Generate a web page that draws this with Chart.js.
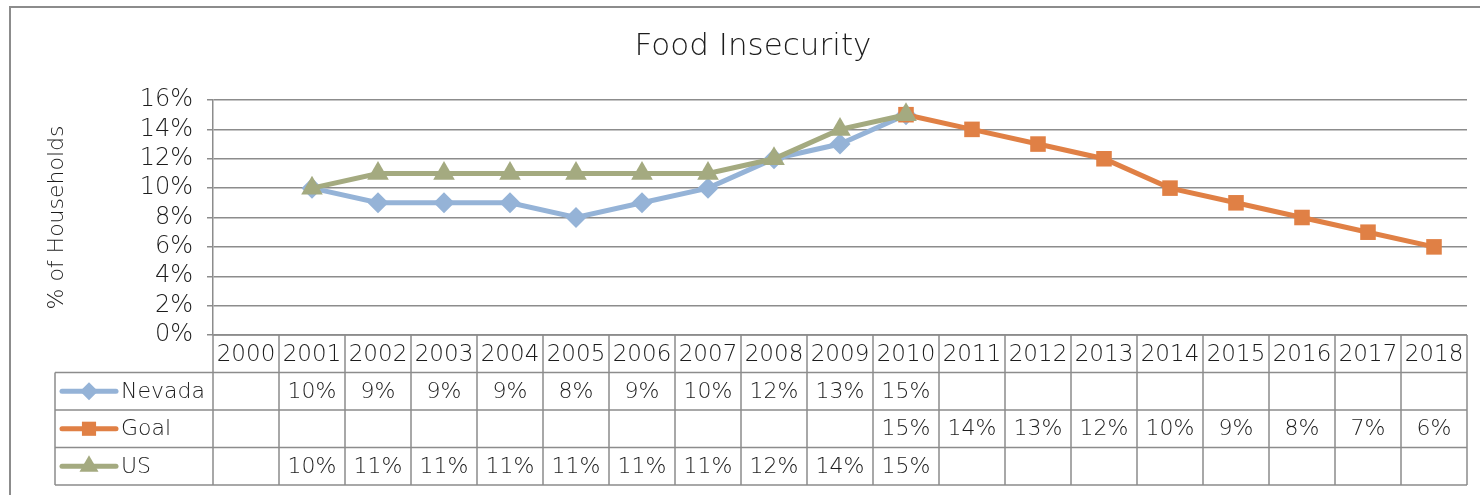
<!DOCTYPE html>
<html><head><meta charset="utf-8">
<script src="https://cdn.jsdelivr.net/npm/chart.js@4/dist/chart.umd.min.js"></script>
<style>html,body{margin:0;padding:0;background:#fff}#wrap{position:relative;width:1480px;height:495px}</style>
</head><body><div id="wrap"><canvas id="c"></canvas></div>
<script>
const years = ['2000','2001','2002','2003','2004','2005','2006','2007','2008','2009','2010','2011','2012','2013','2014','2015','2016','2017','2018'];
const nevada = [null,10,9,9,9,8,9,10,12,13,15,null,null,null,null,null,null,null,null];
const goal   = [null,null,null,null,null,null,null,null,null,null,15,14,13,12,10,9,8,7,6];
const us     = [null,10,11,11,11,11,11,11,12,14,15,null,null,null,null,null,null,null,null];
const seriesNames = ['Nevada','Goal','US'];
const titleText = 'Food Insecurity';
const yTitle = '% of Households';

const FONT = '"DejaVu Sans", sans-serif';
const W = '200';
const TXT = '#1c1c1c';
const GRID = '#8c8c8c';
const cNev = '#95b3d7', cGoal = '#e08045', cUS = '#a4aa80';

const tablePlugin = {
  id: 'dataTable',
  afterDraw(chart) {
    const {ctx, chartArea: {left, right, bottom}, scales: {x}} = chart;
    const n = years.length;
    const colW = (right - left) / n;
    const rowY = [bottom, bottom + 37.5, bottom + 75, bottom + 112.5, bottom + 150];
    const legL = 55;
    ctx.save();
    // title
    ctx.fillStyle = TXT; ctx.font = W + ' 31px ' + FONT; ctx.textAlign = 'center'; ctx.textBaseline = 'middle';
    ctx.fillText(titleText, 753, 47);
    ctx.strokeStyle = GRID; ctx.lineWidth = 1.5;
    ctx.beginPath();
    ctx.moveTo(left, rowY[0]); ctx.lineTo(right, rowY[0]);
    for (let r = 1; r < rowY.length; r++) { ctx.moveTo(legL, rowY[r]); ctx.lineTo(right, rowY[r]); }
    for (let i = 0; i <= n; i++) { const xx = left + i * colW; ctx.moveTo(xx, rowY[0]); ctx.lineTo(xx, rowY[4]); }
    ctx.moveTo(legL, rowY[1]); ctx.lineTo(legL, rowY[4]);
    ctx.stroke();
    ctx.font = W + ' 23px ' + FONT;
    years.forEach((y, i) => ctx.fillText(y, x.getPixelForValue(i), (rowY[0] + rowY[1]) / 2 + 1));
    ctx.font = W + ' 22px ' + FONT;
    const data = [nevada, goal, us];
    const styles = [{c: cNev, s: 'rectRot', r: 9}, {c: cGoal, s: 'rect', r: 10}, {c: cUS, s: 'triangle', r: 11}];
    data.forEach((arr, k) => {
      const cy = (rowY[k + 1] + rowY[k + 2]) / 2 + 1;
      arr.forEach((v, i) => { if (v !== null) ctx.fillText(v + '%', x.getPixelForValue(i), cy); });
      const st = styles[k];
      ctx.strokeStyle = st.c; ctx.lineWidth = 5; ctx.lineCap = 'round';
      ctx.beginPath(); ctx.moveTo(62, cy - 1); ctx.lineTo(116, cy - 1); ctx.stroke();
      ctx.fillStyle = st.c;
      Chart.helpers.drawPoint(ctx, {pointStyle: st.s, radius: st.r, rotation: 0, borderWidth: 0}, 89, cy - 1);
      ctx.fillStyle = TXT; ctx.textAlign = 'left';
      ctx.fillText(seriesNames[k], 121, cy);
      ctx.textAlign = 'center';
    });
    ctx.strokeStyle = GRID; ctx.lineWidth = 2;
    ctx.strokeRect(10, 7, 1480, 500);
    ctx.restore();
  }
};

new Chart(document.getElementById('c'), {
  type: 'line',
  data: {
    labels: years,
    datasets: [
      {label: seriesNames[0], data: nevada, borderColor: cNev, backgroundColor: cNev, borderWidth: 5, pointStyle: 'rectRot', pointRadius: 10.5, pointBorderWidth: 0, order: 2},
      {label: seriesNames[1], data: goal, borderColor: cGoal, backgroundColor: cGoal, borderWidth: 5, pointStyle: 'rect', pointRadius: 11, pointBorderWidth: 0, order: 1},
      {label: seriesNames[2], data: us, borderColor: cUS, backgroundColor: cUS, borderWidth: 5, pointStyle: 'triangle', pointRadius: 12.5, pointBorderWidth: 0, order: 0}
    ]
  },
  options: {
    responsive: true, maintainAspectRatio: false, animation: false,
    layout: {padding: {left: 20, right: 13, top: 100, bottom: 160}},
    plugins: {legend: {display: false}, tooltip: {enabled: false}, title: {display: false}},
    scales: {
      x: {display: false, offset: true},
      y: {
        min: 0, max: 16,
        afterFit(s) { s.width = 193; },
        ticks: {stepSize: 2, autoSkip: false, color: TXT, font: {family: FONT, size: 24, weight: W}, padding: 14, callback: v => v + '%'},
        grid: {color: GRID, lineWidth: 1.5, tickLength: 6, drawTicks: true},
        border: {display: true, color: GRID, width: 1.5},
        title: {display: true, text: yTitle, color: TXT, font: {family: FONT, size: 22, weight: W}, padding: {top: 24}}
      }
    }
  },
  plugins: [tablePlugin]
});
</script></body></html>
